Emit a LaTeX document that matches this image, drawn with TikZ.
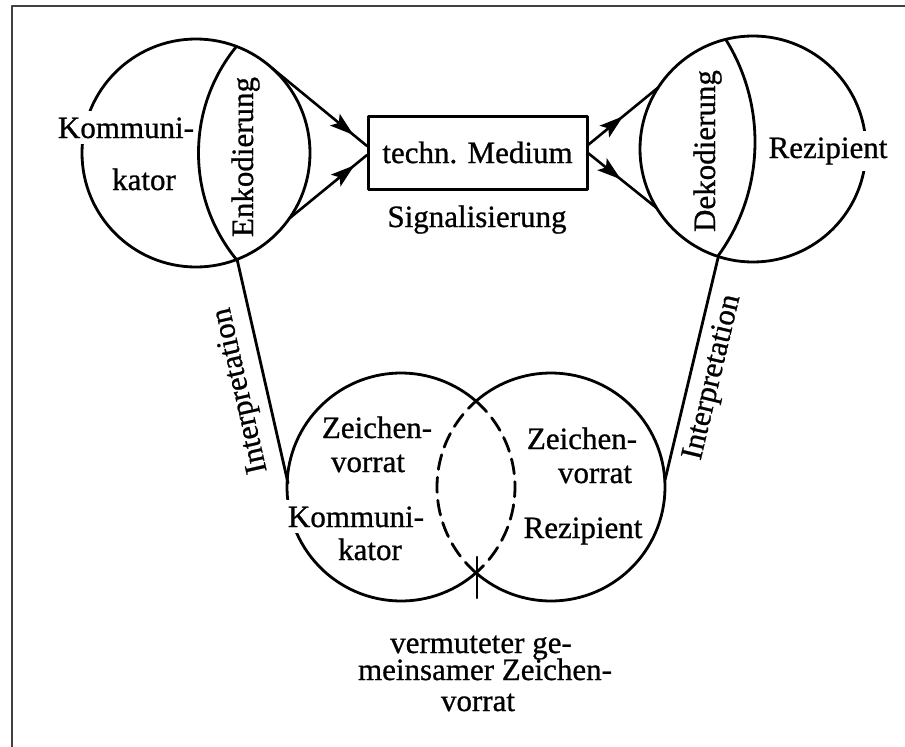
\documentclass[tikz,border=0pt]{standalone}
\usepackage{fontspec}
\setmainfont{Liberation Serif}[FakeBold=0.8]
\usetikzlibrary{arrows.meta,decorations.markings}

\tikzset{
  lbl/.style={font=\fontsize{31}{33}\selectfont, inner sep=0pt, anchor=base},
  cut/.style={lbl, fill=white, inner xsep=2pt, inner ysep=6pt},
  ring/.style={line width=2.8pt},
  shared/.style={line width=2.8pt, dash pattern=on 15pt off 8pt},
  frameline/.style={line width=2.2pt, draw=black!75},
  flow/.style={line width=2.6pt, postaction={decorate},
    decoration={markings, mark=at position #1 with {\arrow{Stealth[length=24pt,width=15pt,inset=5pt]}}}},
}

\begin{document}
\begin{tikzpicture}[x=1pt, y=-1pt, line cap=round, line join=round]
\useasboundingbox (0,0) rectangle (905,747);

% frame edges
\draw[frameline] (12,747) -- (12,6) -- (905,6);

% centres of the four circles and of the two lens arcs
\coordinate (kom) at (196,153);
\coordinate (rez) at (753,149);
\coordinate (enkc) at (367,153);
\coordinate (dekc) at (561,142);
\coordinate (zk) at (401,487);
\coordinate (zr) at (551,487);

% communicator and recipient circles
\draw[ring] (kom) circle[radius=114];
\draw[ring] (rez) circle[radius=113];

% labels that interrupt the circle outlines
\node[cut] (komlbl) at (126,138) {Kommuni-};
\node[lbl] (katlbl) at (144,190) {kator};
\node[cut] (rezlbl) at (828,158) {Rezipient};

% encoding and decoding lenses
\begin{scope}
  \clip (kom) circle[radius=114];
  \draw[ring] (enkc) circle[radius=168.5];
\end{scope}
\begin{scope}
  \clip (rez) circle[radius=113];
  \draw[ring] (dekc) circle[radius=194];
\end{scope}
\node[lbl, rotate=90] (enk) at (253,157) {Enkodierung};
\node[lbl, rotate=90] (dek) at (715,151) {Dekodierung};

% technical medium
\node[draw, line width=3pt, minimum width=219pt, minimum height=73pt, inner sep=0pt,
      font=\fontsize{31}{33}\selectfont] (medium) at (477.5,152.5) {techn. Medium};
\node[lbl] (sig) at (477,227) {Signalisierung};

% connector end points
\coordinate (e1) at (272.3,68.3);
\coordinate (e2) at (289.4,218.4);
\coordinate (m1) at (367,146);
\coordinate (m2) at (367,155);
\coordinate (m3) at (588,145);
\coordinate (m4) at (588,153);
\coordinate (d1) at (658.2,87.5);
\coordinate (d2) at (656.6,208);

\draw[flow=0.86] (e1) -- (m1);
\draw[flow=0.84] (e2) -- (m2);
\draw[flow=0.50] (m3) -- (d1);
\draw[flow=0.48] (m4) -- (d2);

% sign repertoires
\coordinate (b1) at (237,259);
\coordinate (b2) at (718,258);
\coordinate (z1) at (288,483);
\coordinate (z2) at (665,480);

\draw[ring] (zk) ++(48.9:114) arc[start angle=48.9, end angle=311.1, radius=114];
\draw[ring] (zr) ++(-131.1:114) arc[start angle=-131.1, end angle=131.1, radius=114];
\draw[shared] (zk) ++(-48.9:114) arc[start angle=-48.9, end angle=48.9, radius=114];
\draw[shared] (zr) ++(131.1:114) arc[start angle=131.1, end angle=228.9, radius=114];
\coordinate (t1) at (477,557);
\coordinate (t2) at (477,598);
\draw[line width=2.4pt] (t1) -- (t2);

% interpretation links, labelled along their slope
\draw[ring] (b1) -- (z1);
\draw[ring] (b2) -- (z2);
\node[lbl, rotate=102.8] (int1) at (248.1,389) {Interpretation};
\node[lbl, rotate=76.6] (int2) at (720,379) {Interpretation};

% texts inside the repertoires
\node[lbl] (zk1) at (377,438) {Zeichen-};
\node[lbl] (zk2) at (368,472) {vorrat};
\node[cut] (zk3) at (356,527) {Kommuni-};
\node[lbl] (zk4) at (370,560) {kator};
\node[lbl] (zr1) at (582,449) {Zeichen-};
\node[lbl] (zr2) at (595,483) {vorrat};
\node[lbl] (zr3) at (583,538) {Rezipient};

% common repertoire caption
\node[lbl] (c1) at (481,653) {vermuteter ge-};
\node[lbl] (c2) at (485,680) {meinsamer Zeichen-};
\node[lbl] (c3) at (478,711) {vorrat};
\end{tikzpicture}
\end{document}
